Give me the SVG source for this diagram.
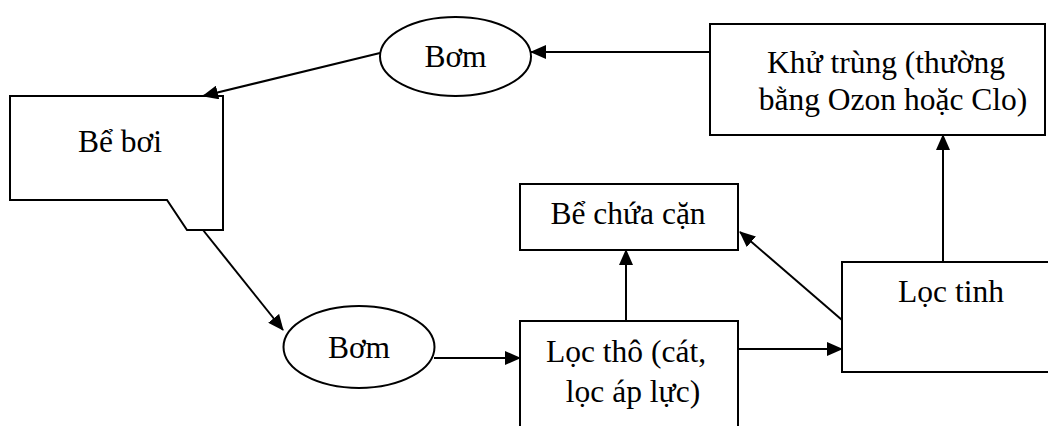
<svg xmlns="http://www.w3.org/2000/svg" width="1048" height="426" viewBox="0 0 1048 426">
<style>
.s{fill:#fff;stroke:#000;stroke-width:2}
.t{font-family:"Liberation Serif","Times New Roman",serif;font-size:31.5px;fill:#000;text-anchor:middle}
.c{stroke:#000;stroke-width:2;fill:none;marker-end:url(#a)}
</style>
<defs>
<marker id="a" markerWidth="16" markerHeight="14" refX="15" refY="7" orient="auto" markerUnits="userSpaceOnUse">
<path d="M0,0 L16,7 L0,14 Z" fill="#000"/>
</marker>
</defs>
<rect width="1048" height="426" fill="#fff"/>
<g id="be-boi">
<path class="s" d="M10,96 L223,96 L223,230 L187,230 L167,200 L10,200 Z"/>
<text class="t" x="120" y="152">Bể bơi</text>
</g>
<g id="bom-top">
<ellipse class="s" cx="455.5" cy="56.5" rx="75.5" ry="39.5"/>
<text class="t" x="455.5" y="67">Bơm</text>
</g>
<g id="khu-trung">
<rect class="s" x="710" y="24" width="335" height="111"/>
<text class="t" x="886" y="73">Khử trùng (thường</text>
<text class="t" x="893" y="110">bằng Ozon hoặc Clo)</text>
</g>
<g id="be-chua-can">
<rect class="s" x="520" y="184" width="218" height="66"/>
<text class="t" x="628" y="224">Bể chứa cặn</text>
</g>
<g id="loc-tho">
<rect class="s" x="520" y="321" width="218" height="120"/>
<text class="t" x="626" y="362">Lọc thô (cát,</text>
<text class="t" x="633" y="402">lọc áp lực)</text>
</g>
<g id="loc-tinh">
<rect class="s" x="842" y="262" width="220" height="110"/>
<text class="t" x="951" y="302">Lọc tinh</text>
</g>
<g id="bom-bottom">
<ellipse class="s" cx="359" cy="347" rx="75.5" ry="41"/>
<text class="t" x="359" y="358">Bơm</text>
</g>
<g id="connectors">
<path class="c" d="M710,52 L531,52"/>
<path class="c" d="M380,53 L203,96"/>
<path class="c" d="M203,230 L283,330"/>
<path class="c" d="M434,358 L520,358"/>
<path class="c" d="M626,321 L626,250"/>
<path class="c" d="M738,349 L842,349"/>
<path class="c" d="M842,320 L740,232"/>
<path class="c" d="M943,262 L943,135"/>
</g>
</svg>
